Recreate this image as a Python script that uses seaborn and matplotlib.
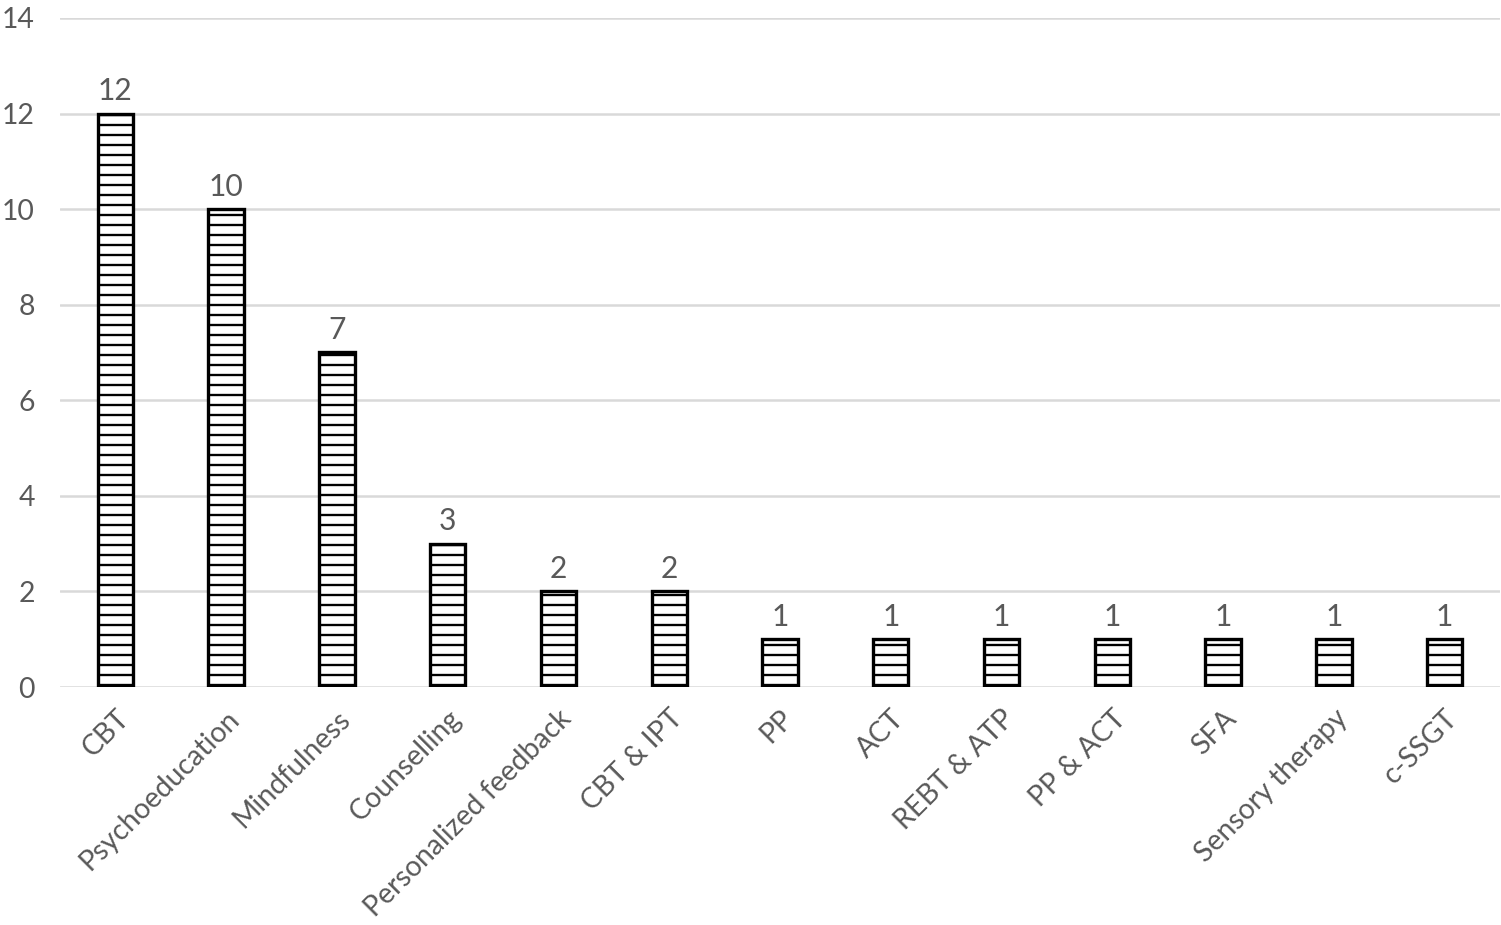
import pandas as pd
import seaborn as sns
import matplotlib.pyplot as plt

# Data
therapies = ['CBT', 'Psychoeducation', 'Mindfulness', 'Counselling', 'Personalized feedback',
             'CBT & IPT', 'PP', 'ACT', 'REBT & ATP', 'PP & ACT', 'SFA', 'Sensory therapy', 'c-SSGT']
counts = [12, 10, 7, 3, 2, 2, 1, 1, 1, 1, 1, 1, 1]
y_ticks = [0, 2, 4, 6, 8, 10, 12, 14]

df = pd.DataFrame({'therapy': therapies, 'count': counts})

sns.set_style('white')
plt.rcParams['font.family'] = ['Lato', 'DejaVu Sans']
plt.rcParams['hatch.linewidth'] = 1.4
plt.rcParams['hatch.color'] = 'black'

grey = '#595959'
fig = plt.figure(figsize=(1501 / 120, 925 / 120), dpi=120)
ax = fig.add_axes([60 / 1501, 1 - 687 / 925, 1440 / 1501, (687 - 18) / 925])

sns.barplot(data=df, x='therapy', y='count', ax=ax, color='white', width=0.32,
            edgecolor='black', linewidth=2, hatch='--', saturation=1)

for c in ax.containers:
    ax.bar_label(c, fontsize=18, color=grey, padding=5)

ax.set_ylim(0, 14)
ax.set_yticks(y_ticks)
ax.set_xlim(-0.5, len(therapies) - 0.5)
ax.grid(axis='y', color='#d9d9d9', linewidth=1.5)
ax.set_axisbelow(True)
for s in ax.spines.values():
    s.set_visible(False)
ax.set_xlabel('')
ax.set_ylabel('')
ax.tick_params(axis='both', length=0, labelsize=17, colors=grey)
ax.tick_params(axis='y', pad=15)
plt.setp(ax.get_xticklabels(), rotation=45, ha='right', rotation_mode='anchor')
ax.tick_params(axis='x', pad=11)

fig.savefig('out.png', dpi=120)
